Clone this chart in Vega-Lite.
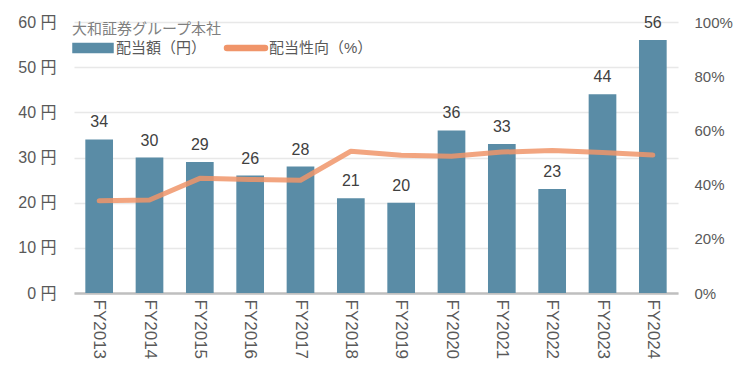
{
  "$schema": "https://vega.github.io/schema/vega-lite/v6.json",
  "width": 604,
  "height": 271,
  "autosize": {"type": "none"},
  "padding": {"left": 74, "top": 22, "right": 72, "bottom": 84},
  "background": "white",
  "config": {
    "font": "Liberation Sans, Noto Sans CJK JP, sans-serif",
    "view": {"stroke": null}
  },
  "data": {
    "values": [
      {"year": "FY2013", "div": 34, "payout": 34.0},
      {"year": "FY2014", "div": 30, "payout": 34.3},
      {"year": "FY2015", "div": 29, "payout": 42.3},
      {"year": "FY2016", "div": 26, "payout": 41.9},
      {"year": "FY2017", "div": 28, "payout": 41.6},
      {"year": "FY2018", "div": 21, "payout": 52.3},
      {"year": "FY2019", "div": 20, "payout": 50.8},
      {"year": "FY2020", "div": 36, "payout": 50.5},
      {"year": "FY2021", "div": 33, "payout": 52.0},
      {"year": "FY2022", "div": 23, "payout": 52.6},
      {"year": "FY2023", "div": 44, "payout": 51.8},
      {"year": "FY2024", "div": 56, "payout": 50.9}
    ]
  },
  "encoding": {
    "x": {
      "field": "year",
      "type": "nominal",
      "sort": null,
      "scale": {"paddingInner": 0.45, "paddingOuter": 0.225},
      "axis": {
        "title": null,
        "labelAngle": 90,
        "labelFontSize": 17,
        "labelColor": "#595959",
        "labelPadding": 6,
        "ticks": false,
        "domainColor": "#bfbfbf",
        "domainWidth": 2.5
      }
    }
  },
  "layer": [
    {
      "layer": [
        {
          "mark": {"type": "bar", "color": "#5A8CA6"},
          "encoding": {
            "y": {
              "field": "div",
              "type": "quantitative",
              "scale": {"domain": [0, 60]},
              "axis": {
                "title": null,
                "values": [0, 10, 20, 30, 40, 50, 60],
                "labelExpr": "datum.value + ' 円'",
                "labelFontSize": 16,
                "labelColor": "#595959",
                "labelPadding": 18,
                "domain": false,
                "ticks": false,
                "gridColor": "#e8e8e8",
                "gridWidth": 1.5
              }
            },
            "color": {
              "datum": "配当額（円）",
              "type": "nominal",
              "scale": {
                "domain": ["配当額（円）", "配当性向（%）"],
                "range": ["#5A8CA6", "#F0956A"]
              },
              "legend": {
                "orient": "none",
                "legendX": -2,
                "legendY": 0,
                "direction": "horizontal",
                "title": "大和証券グループ本社",
                "titleFontSize": 15,
                "titleFontWeight": "normal",
                "titleColor": "#7f7f7f",
                "titlePadding": 0,
                "labelFontSize": 15,
                "labelColor": "#595959",
                "labelOffset": 22,
                "columnPadding": 14,
                "symbolSize": 400,
                "encode": {
                  "symbols": {
                    "update": {
                      "shape": {"signal": "datum.value === '配当額（円）' ? 'M-1,-0.45H3V0.45H-1Z' : 'M-0.9,-0.25H2.9A0.25,0.25 0 0 1 2.9,0.25H-0.9A0.25,0.25 0 0 1 -0.9,-0.25Z'"},
                      "fill": {"signal": "datum.value === '配当額（円）' ? '#5A8CA6' : '#F0956A'"},
                      "stroke": {"value": "transparent"},
                      "opacity": {"value": 1}
                    }
                  }
                }
              }
            }
          }
        },
        {
          "mark": {"type": "text", "baseline": "bottom", "dy": -9, "fontSize": 16, "color": "#404040"},
          "encoding": {
            "y": {"field": "div", "type": "quantitative"},
            "text": {"field": "div", "type": "quantitative"}
          }
        }
      ]
    },
    {
      "mark": {"type": "line", "strokeWidth": 5, "opacity": 0.85, "strokeCap": "round", "strokeJoin": "round"},
      "encoding": {
        "y": {
          "field": "payout",
          "type": "quantitative",
          "scale": {"domain": [0, 100]},
          "axis": {
            "orient": "right",
            "title": null,
            "values": [0, 20, 40, 60, 80, 100],
            "labelExpr": "datum.value + '%'",
            "labelFontSize": 15,
            "labelColor": "#595959",
            "labelPadding": 16,
            "domain": false,
            "ticks": false,
            "grid": false
          }
        },
        "color": {"datum": "配当性向（%）", "type": "nominal"}
      }
    }
  ],
  "resolve": {"scale": {"y": "independent"}}
}
